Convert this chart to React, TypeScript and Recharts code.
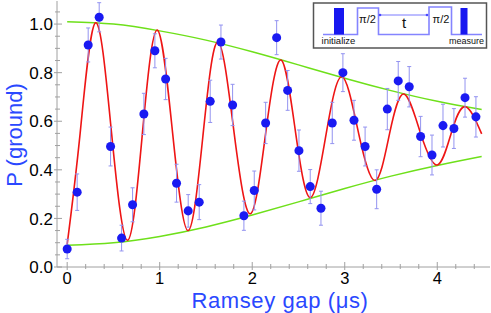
import { ComposedChart, XAxis, YAxis, Line, Scatter, ErrorBar, Label } from 'recharts'

// measured points: Ramsey gap (us), ground-state probability, error
const GAP = [0, 0.108, 0.227, 0.346, 0.469, 0.588, 0.707, 0.829, 0.948, 1.064, 1.182, 1.308, 1.427, 1.546, 1.662, 1.788, 1.91, 2.022, 2.145, 2.264, 2.383, 2.505, 2.627, 2.743, 2.865, 2.98, 3.1, 3.22, 3.345, 3.46, 3.578, 3.697, 3.82, 3.943, 4.062, 4.18, 4.3, 4.418]
const P_GROUND = [0.074, 0.308, 0.914, 1.028, 0.496, 0.119, 0.256, 0.63, 0.89, 0.774, 0.345, 0.231, 0.267, 0.682, 0.926, 0.667, 0.211, 0.315, 0.593, 0.944, 0.727, 0.479, 0.331, 0.242, 0.593, 0.8, 0.604, 0.496, 0.32, 0.65, 0.766, 0.742, 0.537, 0.461, 0.582, 0.57, 0.697, 0.618]
const P_ERR = [0.04, 0.075, 0.07, 0.06, 0.08, 0.053, 0.07, 0.085, 0.07, 0.085, 0.078, 0.067, 0.072, 0.087, 0.07, 0.085, 0.06, 0.08, 0.085, 0.07, 0.082, 0.085, 0.07, 0.07, 0.085, 0.078, 0.082, 0.08, 0.08, 0.085, 0.08, 0.083, 0.083, 0.082, 0.088, 0.082, 0.08, 0.083]

// fit curve, read at peaks / troughs / midline crossings
const FIT_X = [0, 0.14, 0.307, 0.48, 0.653, 0.813, 0.973, 1.14, 1.308, 1.47, 1.63, 1.805, 1.98, 2.145, 2.31, 2.47, 2.63, 2.8, 2.97, 3.15, 3.33, 3.485, 3.64, 3.82, 4.0, 4.15, 4.3, 4.48]
const FIT_Y = [0.093, 0.55, 1.005, 0.55, 0.11, 0.55, 0.975, 0.55, 0.15, 0.55, 0.926, 0.55, 0.219, 0.55, 0.852, 0.55, 0.286, 0.55, 0.783, 0.55, 0.356, 0.55, 0.712, 0.55, 0.42, 0.55, 0.66, 0.548]

// decay envelope
const ENV_X = [0, 0.5, 1, 1.5, 2, 2.5, 3, 3.5, 4, 4.48]
const ENV_UPPER = [1.01, 1.0, 0.972, 0.934, 0.886, 0.832, 0.777, 0.726, 0.682, 0.648]
const ENV_LOWER = [0.09, 0.1, 0.126, 0.165, 0.214, 0.268, 0.323, 0.374, 0.418, 0.455]

const X_TICKS = [0, 0.2, 0.4, 0.6, 0.8, 1, 1.2, 1.4, 1.6, 1.8, 2, 2.2, 2.4, 2.6, 2.8, 3, 3.2, 3.4, 3.6, 3.8, 4, 4.2, 4.4]
const Y_TICKS = [0, 0.05, 0.1, 0.15, 0.2, 0.25, 0.3, 0.35, 0.4, 0.45, 0.5, 0.55, 0.6, 0.65, 0.7, 0.75, 0.8, 0.85, 0.9, 0.95, 1, 1.05]

const W = 491
const H = 313
const TOP = 1
const BOTTOM = 267
const LEFT = 57
const RIGHT = 490
const FRAME = '#a0a0a0'
const FONT = 'Liberation Sans, Arial, Helvetica, sans-serif'
const LABEL_BLUE = '#2a48ff'

const points = GAP.map((x, i) => ({ x, y: P_GROUND[i], err: P_ERR[i] }))
const fit = FIT_X.map((x, i) => ({ x, y: FIT_Y[i] }))
const upper = ENV_X.map((x, i) => ({ x, y: ENV_UPPER[i] }))
const lower = ENV_X.map((x, i) => ({ x, y: ENV_LOWER[i] }))

const isMajorX = (v: number) => Math.abs(v - Math.round(v)) < 1e-6
const isMajorY = (v: number) => Math.abs(v * 5 - Math.round(v * 5)) < 1e-6

function BottomTick(props: any) {
  const { x, payload } = props
  const major = isMajorX(payload.value)
  return (
    <g>
      <line x1={x} x2={x} y1={BOTTOM + (major ? 3 : 2)} y2={BOTTOM - (major ? 5 : 3)} stroke={FRAME} />
      {major && (
        <text x={x} y={284} textAnchor="middle" fontSize={16.5} fontFamily={FONT} fill="#000">
          {payload.value}
        </text>
      )}
    </g>
  )
}

function TopTick(props: any) {
  const { x, payload } = props
  const major = isMajorX(payload.value)
  return <line x1={x} x2={x} y1={TOP} y2={TOP + (major ? 5 : 3)} stroke={FRAME} />
}

function LeftTick(props: any) {
  const { y, payload } = props
  const major = isMajorY(payload.value)
  return (
    <g>
      <line x1={LEFT - (major ? 3 : 2)} x2={LEFT + (major ? 5 : 3)} y1={y} y2={y} stroke={FRAME} />
      {major && (
        <text x={53} y={y} dy="0.36em" textAnchor="end" fontSize={17} fontFamily={FONT} fill="#000">
          {payload.value.toFixed(1)}
        </text>
      )}
    </g>
  )
}

function RightTick(props: any) {
  const { y, payload } = props
  const major = isMajorY(payload.value)
  return <line x1={RIGHT} x2={RIGHT - (major ? 5 : 3)} y1={y} y2={y} stroke={FRAME} />
}

function Inset() {
  const trace = '323,34.5 357.5,34.5 357.5,8 378.5,8 378.5,34.5 429,34.5 429,7 451.5,7 451.5,34.5 482,34.5'
  return (
    <svg width={W} height={H} style={{ position: 'absolute', left: 0, top: 0, pointerEvents: 'none' }}>
      <rect x={313.5} y={3} width={173} height={45} fill="#fff" stroke="#555" strokeWidth={1.5} />
      <polyline points={trace} fill="none" stroke="#8484ff" strokeWidth={1.6} />
      <rect x={334} y={8} width={10} height={26.5} fill="#1717f0" />
      <rect x={460.5} y={8} width={7} height={26.5} fill="#1717f0" />
      <line x1={380} x2={427} y1={15} y2={15} stroke="#7a7aff" strokeWidth={1} />
      <circle cx={380} cy={15} r={1.3} fill="#4a4aff" />
      <circle cx={427} cy={15} r={1.3} fill="#4a4aff" />
      <text x={404} y={28} textAnchor="middle" fontSize={15} fontFamily={FONT} fill="#111">t</text>
      <text x={367.5} y={23} textAnchor="middle" fontSize={11} fontFamily={FONT} fill="#111">π/2</text>
      <text x={441} y={23} textAnchor="middle" fontSize={11} fontFamily={FONT} fill="#111">π/2</text>
      <text x={338.5} y={44} textAnchor="middle" fontSize={9.5} fontFamily={FONT} fill="#111">initialize</text>
      <text x={466.5} y={44} textAnchor="middle" fontSize={9} fontFamily={FONT} fill="#111">measure</text>
    </svg>
  )
}

export default function App() {
  return (
    <div style={{ position: 'absolute', left: 0, top: 0, width: W, height: H, background: '#fff' }}>
      <ComposedChart width={W} height={H} margin={{ top: TOP, right: W - RIGHT, bottom: 0, left: 0 }}>
        <XAxis
          xAxisId="b"
          type="number"
          dataKey="x"
          domain={[-0.11, 4.57]}
          allowDataOverflow
          ticks={X_TICKS}
          interval={0}
          height={H - BOTTOM}
          axisLine={{ stroke: FRAME }}
          tickLine={false}
          tick={<BottomTick />}
        >
          <Label
            content={() => (
              <text x={280} y={307.5} textAnchor="middle" fontSize={22} letterSpacing={0.6} fontFamily={FONT} fill={LABEL_BLUE}>
                Ramsey gap (μs)
              </text>
            )}
          />
        </XAxis>
        <XAxis
          xAxisId="t"
          orientation="top"
          type="number"
          dataKey="x"
          domain={[-0.11, 4.57]}
          allowDataOverflow
          ticks={X_TICKS}
          interval={0}
          height={0}
          axisLine={{ stroke: FRAME }}
          tickLine={false}
          tick={<TopTick />}
        />
        <YAxis
          yAxisId="l"
          type="number"
          domain={[0, 1.095]}
          allowDataOverflow
          ticks={Y_TICKS}
          interval={0}
          width={LEFT}
          axisLine={{ stroke: FRAME }}
          tickLine={false}
          tick={<LeftTick />}
        >
          <Label
            content={() => (
              <text
                x={22}
                y={135}
                transform="rotate(-90 22 135)"
                textAnchor="middle"
                fontSize={22}
                fontFamily={FONT}
                fill={LABEL_BLUE}
              >
                P (ground)
              </text>
            )}
          />
        </YAxis>
        <YAxis
          yAxisId="r"
          orientation="right"
          type="number"
          domain={[0, 1.095]}
          allowDataOverflow
          ticks={Y_TICKS}
          interval={0}
          width={0}
          axisLine={{ stroke: FRAME }}
          tickLine={false}
          tick={<RightTick />}
        />
        <Line xAxisId="b" yAxisId="l" data={upper} dataKey="y" type="natural" stroke="#6ee01a" strokeWidth={1.5} dot={false} isAnimationActive={false} />
        <Line xAxisId="b" yAxisId="l" data={lower} dataKey="y" type="natural" stroke="#6ee01a" strokeWidth={1.5} dot={false} isAnimationActive={false} />
        <Line xAxisId="b" yAxisId="l" data={fit} dataKey="y" type="natural" stroke="#ee1515" strokeWidth={1.6} dot={false} isAnimationActive={false} />
        <Scatter xAxisId="b" yAxisId="l" data={points} dataKey="y" fill="#1a1af2" isAnimationActive={false}>
          <ErrorBar dataKey="err" direction="y" width={2} stroke="#9393f0" strokeWidth={1} isAnimationActive={false} />
        </Scatter>
        {/* keep the mirrored frame axes bound to something */}
        <Line xAxisId="t" yAxisId="r" data={[]} dataKey="y" stroke="none" dot={false} isAnimationActive={false} />
      </ComposedChart>
      <Inset />
    </div>
  )
}
